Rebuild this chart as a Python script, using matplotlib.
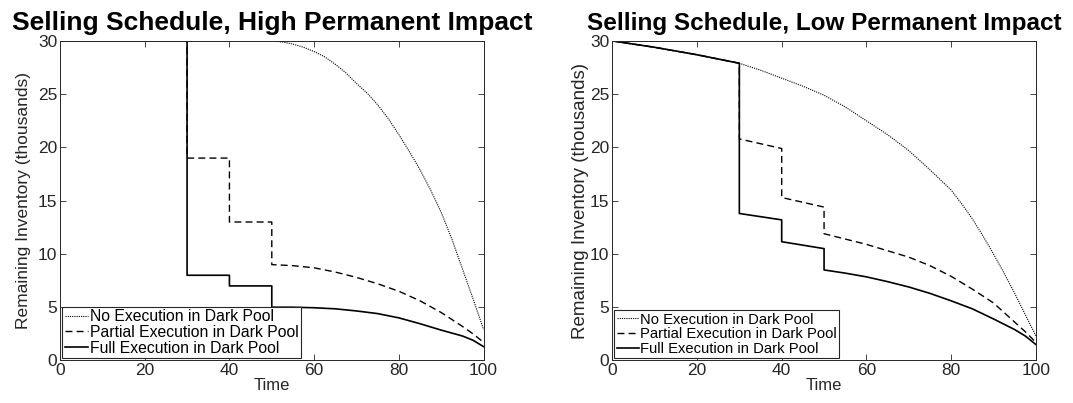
import matplotlib
matplotlib.use("Agg")
import matplotlib.pyplot as plt
import numpy as np

plt.rcParams['font.family'] = ['Liberation Sans', 'DejaVu Sans']

labels = ['No Execution in Dark Pool', 'Partial Execution in Dark Pool', 'Full Execution in Dark Pool']
titles = ['Selling Schedule, High Permanent Impact', 'Selling Schedule, Low Permanent Impact']

# high permanent impact (thousands of shares)
high_none_t = [0, 50, 52.5, 55, 57.5, 60, 62.5, 65, 67.5, 70, 72.5, 75, 77.5, 80,
               82.5, 85, 87.5, 90, 92.5, 95, 97.5, 100]
high_none_v = [30, 30, 29.9, 29.7, 29.4, 29.0, 28.5, 27.8, 27.0, 26.0, 25.1, 24.0, 22.7, 21.2,
               19.6, 17.9, 16.0, 13.9, 11.4, 8.6, 5.8, 2.9]

high_part_t = [0, 30, 30, 40, 40, 50, 50, 55, 60, 65, 70, 75, 80, 85, 90, 95, 97.5, 100]
high_part_v = [30, 30, 19, 19, 13, 13, 9.0, 8.9, 8.7, 8.3, 7.8, 7.2, 6.5, 5.6, 4.5, 3.2, 2.5, 1.7]

high_full_t = [0, 30, 30, 40, 40, 50, 50, 55, 60, 65, 70, 75, 80, 85, 90, 95, 97.5, 100]
high_full_v = [30, 30, 8, 8, 7, 7, 5.0, 5.0, 4.95, 4.85, 4.65, 4.4, 4.0, 3.45, 2.85, 2.3, 1.9, 1.3]

# low permanent impact
low_none_t = [0, 5, 10, 15, 20, 25, 30, 35, 40, 45, 50, 55, 60, 65, 70, 75, 80,
              82.5, 85, 87.5, 90, 92.5, 95, 97.5, 100]
low_none_v = [30, 29.7, 29.4, 29.05, 28.7, 28.3, 27.9, 27.25, 26.5, 25.75, 24.9, 23.8, 22.5,
              21.2, 19.7, 17.9, 16.0, 14.7, 13.3, 11.7, 10.0, 8.2, 6.3, 4.3, 2.3]

low_part_t = [0, 10, 20, 30, 30, 40, 40, 50, 50, 55, 60, 65, 70, 75, 80, 85, 90, 95, 97.5, 100]
low_part_v = [30, 29.4, 28.7, 27.9, 20.8, 19.9, 15.3, 14.4, 11.9, 11.4, 10.9, 10.3, 9.7, 8.9,
              7.9, 6.7, 5.4, 3.6, 2.7, 1.7]

low_full_t = [0, 10, 20, 30, 30, 40, 40, 50, 50, 55, 60, 65, 70, 75, 80, 85, 90, 95, 97.5, 100]
low_full_v = [30, 29.4, 28.7, 27.9, 13.8, 13.2, 11.15, 10.5, 8.5, 8.2, 7.85, 7.4, 6.9, 6.3,
              5.6, 4.85, 3.9, 2.9, 2.3, 1.5]

panels = [
    (high_none_t, high_none_v, high_part_t, high_part_v, high_full_t, high_full_v),
    (low_none_t, low_none_v, low_part_t, low_part_v, low_full_t, low_full_v),
]

fig = plt.figure(figsize=(10.73, 4.03), dpi=100)
ax_left = fig.add_axes([0.0559, 0.1055, 0.3948, 0.793])
ax_right = fig.add_axes([0.5706, 0.1055, 0.3948, 0.793])

grey = '#262626'
# per-panel text sizes: title, legend, y label, y label x position
styles = [(19, 11.3, 12.5, -0.068), (17.5, 10.6, 13.5, -0.055)]

for ax, title, data, st in zip([ax_left, ax_right], titles, panels, styles):
    t0, v0, t1, v1, t2, v2 = data
    title_fs, leg_fs, ylab_fs, ylab_x = st
    ax.plot(t0, v0, color='black', lw=0.8, linestyle=(0, (1, 1)), label=labels[0])
    ax.plot(t1, v1, color='black', lw=1.0, dashes=(5, 3), label=labels[1])
    ax.plot(t2, v2, color='black', lw=1.2, label=labels[2])

    ax.set_xlim(0, 100)
    ax.set_ylim(0, 30)
    ax.set_xticks(np.arange(0, 101, 20))
    ax.set_yticks(np.arange(0, 31, 5))
    ax.tick_params(direction='in', top=True, right=True, length=4, width=0.6,
                   labelsize=12.5, colors=grey, pad=2)
    for sp in ax.spines.values():
        sp.set_color(grey)
        sp.set_linewidth(0.7)

    ax.set_xlabel('Time', fontsize=12, color=grey, labelpad=0)
    ax.set_ylabel('Remaining Inventory (thousands)', fontsize=ylab_fs, color=grey)
    ax.yaxis.set_label_coords(ylab_x, 0.5)
    ax.set_title(title, fontsize=title_fs, fontweight='bold', pad=7.5)

    leg = ax.legend(loc='lower left', fontsize=leg_fs, handlelength=1.5, handletextpad=0.1,
                    labelspacing=0.05, borderpad=0.15, borderaxespad=0.15,
                    fancybox=False, framealpha=1)
    leg.get_frame().set_edgecolor(grey)
    leg.get_frame().set_linewidth(0.8)

fig.savefig('out.png', dpi=100)
